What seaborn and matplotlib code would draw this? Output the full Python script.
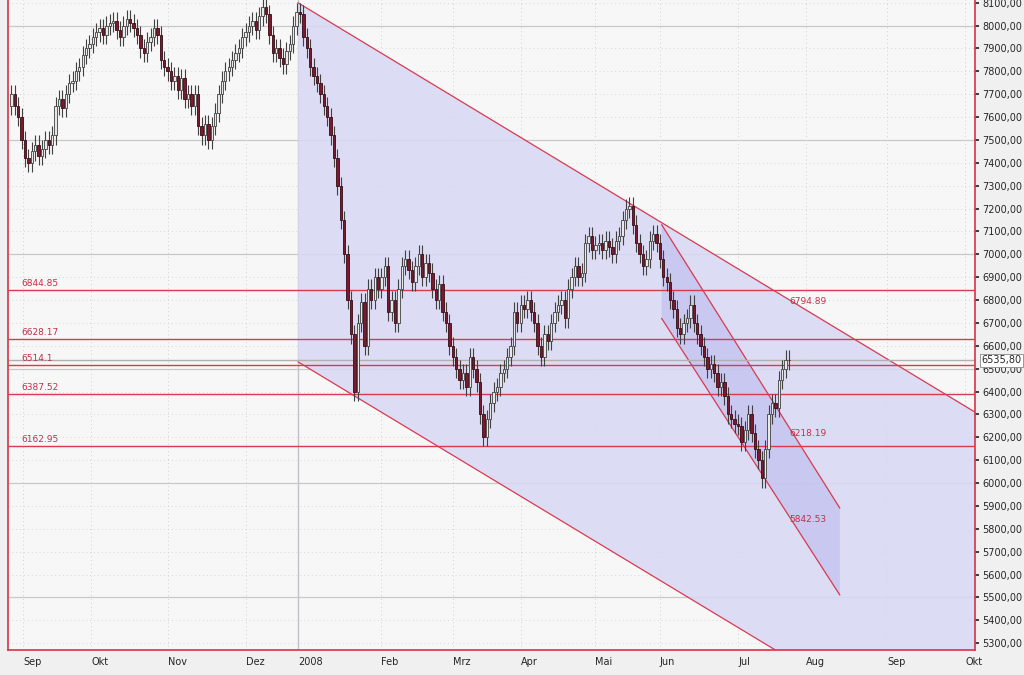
import matplotlib
matplotlib.use("Agg")
import matplotlib.pyplot as plt
import seaborn as sns
import numpy as np
import pandas as pd

sns.set_theme(style="white")
plt.rcParams['font.family'] = ['DejaVu Sans']

closes = [7700,7650,7600,7500,7420,7400,7450,7480,7430,7460,7500,7480,7520,7650,7680,7640,7700,7750,7760,
 7800,7820,7870,7900,7920,7950,7970,7990,7960,8000,8010,8020,7980,7950,8000,8030,8010,7990,7960,7900,7880,7930,7950,7990,7960,7850,7820,
 7800,7760,7780,7720,7770,7680,7700,7650,7700,7560,7520,7570,7500,7560,7620,7700,7760,7800,7820,7850,7880,7900,7950,
 7970,8000,8020,7980,8040,8080,8050,7960,7880,7900,7860,7830,7890,7920,8000,8060,8050,
 7950,7900,7820,7780,7750,7700,7650,7600,7520,7420,7300,7150,7000,6800,6650,6400,6700,6790,6600,6850,6800,6900,
 6850,6900,6950,6750,6800,6700,6850,6950,6980,6930,6880,6950,7000,6900,6960,6920,6850,6800,6870,6750,6700,
 6600,6550,6500,6450,6480,6420,6550,6500,6440,6300,6200,6280,6350,6400,6420,6480,6500,6550,6600,
 6750,6700,6780,6760,6800,6750,6700,6600,6550,6650,6620,6700,6750,6780,6800,6720,6850,6900,6950,6900,6920,
 7050,7080,7020,7040,7050,7020,7060,7030,7000,7060,7080,7150,7200,7210,7130,7050,7000,6950,6980,7060,7090,
 7050,6980,6900,6880,6800,6760,6680,6650,6700,6720,6780,6700,6650,6600,6550,6500,6520,6480,6420,6440,6380,6300,6280,
 6260,6250,6180,6230,6300,6220,6150,6100,6020,6150,6300,6350,6330,6450,6500,6540,6536]
first_open = 7650
wick = 40

month_labels = ["Sep","Okt","Nov","Dez","2008","Feb","Mrz","Apr","Mai","Jun","Jul","Aug","Sep","Okt"]
month_pos = [3.5,23.5,46,69,84.5,109,130,150,172,191,214,234,258,281]

levels = [6844.85, 6628.17, 6514.1, 6387.52, 6162.95]
level_labels = ["6844.85","6628.17","6514.1","6387.52","6162.95"]
big_upper = [(84.4, 8100), (283.8, 6310)]
big_lower = [(84.4, 6530), (225, 5270)]
small_upper = [(191.5, 7130), (244, 5890)]
small_lower = [(191.5, 6720), (244, 5510)]
notes = [(229, 6794.89, "6794.89"), (229, 6218.19, "6218.19"), (229, 5842.53, "5842.53")]
last_price = 6535.80

opens = [first_open] + closes[:-1]
df = pd.DataFrame({"i": np.arange(len(closes)), "o": opens, "c": closes})
df["h"] = df[["o","c"]].max(axis=1) + wick
df["l"] = df[["o","c"]].min(axis=1) - wick

fig = plt.figure(figsize=(10.24, 6.75), dpi=100)
fig.patch.set_facecolor("#f0f0f0")
ax = fig.add_axes([8/1024, 25/675, 967/1024, 650/675])
ax.set_facecolor("#f7f7f7")
XMIN, XMAX, YMIN, YMAX = -1, 283.8, 5270, 8112
ax.set_xlim(XMIN, XMAX); ax.set_ylim(YMIN, YMAX)

for y in range(5300, 8101, 100):
    if y % 500 == 0:
        ax.axhline(y, color="#c8c8c8", lw=0.9, zorder=0)
    else:
        ax.axhline(y, color="#d8d8d8", lw=0.7, ls=(0,(1,3)), zorder=0)
for p in month_pos:
    ax.axvline(p, color="#d0d0d0", lw=0.7, ls=(0,(1,3)), zorder=0)
ax.axvline(84.4, color="#c0c0c8", lw=1, zorder=0)

poly = [big_upper[0], big_upper[1], (XMAX, YMIN), big_lower[1], big_lower[0]]
ax.fill([p[0] for p in poly], [p[1] for p in poly], color="#d8d8f4", alpha=0.85, zorder=1, lw=0)
poly2 = [small_upper[0], small_upper[1], small_lower[1], small_lower[0]]
ax.fill([p[0] for p in poly2], [p[1] for p in poly2], color="#bcbcee", alpha=0.6, zorder=1, lw=0)
for ln in [big_upper, big_lower, small_upper, small_lower]:
    ax.plot([ln[0][0], ln[1][0]], [ln[0][1], ln[1][1]], color="#d83a50", lw=0.9, zorder=2)

for lv, lb in zip(levels, level_labels):
    ax.axhline(lv, color="#d83a50", lw=1.0, zorder=2)
    ax.text(3, lv + 18, lb, color="#c0304a", fontsize=6.5, zorder=5)
for x, y, t in notes:
    ax.text(x, y, t, color="#c0304a", fontsize=6.5, va="center", zorder=5)
ax.axhline(last_price, color="#b0b0b0", lw=1.0, zorder=2)

up = df[df.c >= df.o]; dn = df[df.c < df.o]
ax.vlines(df.i, df.l, df.h, color="#404040", lw=0.8, zorder=3)
ax.bar(up.i, up.c - up.o, bottom=up.o, width=0.7, color="#e8e8e8", edgecolor="#404040", lw=0.6, zorder=4)
ax.bar(dn.i, dn.o - dn.c, bottom=dn.c, width=0.7, color="#7a1a2e", edgecolor="#3a0a14", lw=0.6, zorder=4)

ax.set_xticks(month_pos)
ax.set_xticklabels(month_labels, fontsize=7, ha="left")
ax.tick_params(axis="x", length=3, pad=2)
ax.yaxis.tick_right()
ax.set_yticks(range(5300, 8101, 100))
ax.set_yticklabels([f"{v},00" for v in range(5300, 8101, 100)], fontsize=7)
ax.tick_params(axis="y", length=3, pad=2, right=True)
ax.text(XMAX + 2, last_price, f"{last_price:.2f}".replace(".", ","), fontsize=7, va="center",
        bbox=dict(boxstyle="square,pad=0.15", fc="white", ec="#888888", lw=0.6), clip_on=False, zorder=6)
ax.spines["top"].set_visible(False)
for s in ["left", "right", "bottom"]:
    ax.spines[s].set_color("#d83a50")

fig.savefig("out.png", dpi=100, facecolor=fig.get_facecolor())
